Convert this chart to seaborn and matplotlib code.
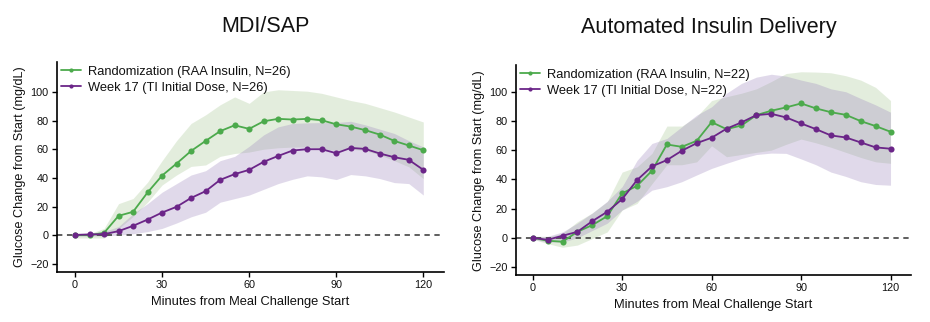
import numpy as np
import pandas as pd
import matplotlib
matplotlib.use("Agg")
import matplotlib.pyplot as plt
import seaborn as sns

sns.set_style("ticks")
plt.rcParams['font.family'] = ['Liberation Sans', 'DejaVu Sans']

minutes = [0, 5, 10, 15, 20, 25, 30, 35, 40, 45, 50, 55, 60, 65, 70, 75, 80, 85, 90, 95, 100, 105, 110, 115, 120]

# MDI/SAP panel
mdi_rand = [0, 0, 1.6, 13.5, 16.3, 29.8, 41.6, 50, 58.8, 65.8, 72.6, 76.7, 74.2, 79.5, 81.2, 80.7, 81.2, 80.2, 77.4, 75.8, 73.3, 70.2, 65.8, 62.6, 59.3]
mdi_rand_lo = [-2, -2, -2, 4.6, 13, 23, 35, 42, 48, 49, 55, 57, 58, 60, 61, 61.5, 61.6, 60.5, 59, 60, 59, 56, 52, 47.7, 39.5]
mdi_rand_hi = [1, 1, 4.7, 22, 25.6, 37, 52, 66, 78, 84, 91, 96.5, 92, 100, 101.5, 101, 100.5, 99, 96.5, 94, 92, 89, 86, 82.5, 79]
mdi_wk17 = [0.2, 0.5, 0.7, 2.8, 6.5, 10.9, 15.8, 19.8, 26, 30.7, 38.6, 42.6, 45.6, 51.2, 55.3, 59.1, 60, 60, 57.2, 60.9, 60.2, 57, 54.4, 52.6, 45.6]
mdi_wk17_lo = [-0.5, -0.5, -0.5, 0, 1, 2.5, 4.7, 8.5, 12.8, 16, 23, 25.5, 28, 32, 36, 39, 41.4, 40.7, 38.8, 42.3, 41.4, 39.5, 36.7, 36, 28]
mdi_wk17_hi = [1, 1.5, 2.5, 6, 15, 22, 30, 36, 42, 45, 52, 55, 62, 70, 75.6, 78, 78.4, 78.6, 78.6, 79.5, 77, 74, 71, 66, 61.6]

# Automated Insulin Delivery panel
aid_rand = [0, -2, -2.7, 4.1, 8.7, 14.8, 30.4, 35.6, 45.9, 63.9, 62.3, 66.4, 79.2, 74.4, 76.9, 84, 87, 89.3, 92, 88.6, 86, 84.2, 79.9, 76.5, 72.6]
aid_rand_lo = [-1, -4, -6.5, -5, -0.5, 4, 19, 23.5, 37, 50, 50, 52, 63, 55.5, 57, 58.5, 60, 64, 67.6, 65, 62, 58.5, 55, 52, 51]
aid_rand_hi = [1, 0.5, 3, 11, 17, 24.7, 45, 48.6, 57.8, 76.5, 76.5, 83, 94, 96.6, 99, 102, 107, 112.5, 113.7, 113.5, 113, 111, 108, 103, 94]
aid_wk17 = [0, -1.4, 1.4, 4.1, 11.4, 17.8, 26.5, 39.5, 48.9, 53.2, 59.6, 64.8, 68.5, 74.7, 79, 84, 84.9, 82.4, 78.3, 74.4, 70.1, 68.7, 65.3, 61.9, 61]
aid_wk17_lo = [-1, -3, -3, 0, 5, 10, 19, 25, 32.6, 35, 38.4, 43, 47.5, 51, 54.3, 57, 58, 57.8, 54, 50, 45, 42, 38.4, 36.5, 36]
aid_wk17_hi = [1, 1, 4, 10, 17, 25, 35, 53, 64.6, 68, 76, 84, 89.7, 99, 105.7, 110, 112, 110.7, 108, 105.7, 102, 100, 95.4, 91, 86]

titles = ["MDI/SAP", "Automated Insulin Delivery"]
labels_mdi = ["Randomization (RAA Insulin, N=26)", "Week 17 (TI Initial Dose, N=26)"]
labels_aid = ["Randomization (RAA Insulin, N=22)", "Week 17 (TI Initial Dose, N=22)"]
x_ticks = [0, 30, 60, 90, 120]
y_ticks = [-20, 0, 20, 40, 60, 80, 100]

GREEN = "#4caa4c"
PURPLE = "#6b2588"
GREEN_BAND = (165/255, 198/255, 145/255)
PURPLE_BAND = (155/255, 132/255, 188/255)

fig = plt.figure(figsize=(9.3, 3.22), dpi=100)
ax1 = fig.add_axes([0.061, 0.154, 0.416, 0.654])
ax2 = fig.add_axes([0.5545, 0.145, 0.4255, 0.653])

panels = [
    (ax1, titles[0], labels_mdi, mdi_rand, mdi_rand_lo, mdi_rand_hi, mdi_wk17, mdi_wk17_lo, mdi_wk17_hi, (-26, 121), (-6.3, 127), 265),
    (ax2, titles[1], labels_aid, aid_rand, aid_rand_lo, aid_rand_hi, aid_wk17, aid_wk17_lo, aid_wk17_hi, (-25.7, 118.3), (-5.7, 127), 709),
]

for ax, title, labels, r, rlo, rhi, w, wlo, whi, ylim, xlim, tx in panels:
    ax.fill_between(minutes, rlo, rhi, color=GREEN_BAND, alpha=0.3, lw=0)
    ax.fill_between(minutes, wlo, whi, color=PURPLE_BAND, alpha=0.3, lw=0)
    ax.axhline(0, color="#333333", ls=(0, (3.5, 3)), lw=1.1, zorder=1)
    df = pd.DataFrame({
        "Minutes": minutes * 2,
        "Change": r + w,
        "Group": [labels[0]] * len(minutes) + [labels[1]] * len(minutes),
    })
    sns.lineplot(data=df, x="Minutes", y="Change", hue="Group",
                 palette=[GREEN, PURPLE], marker="o", markersize=4.4,
                 markeredgewidth=0, lw=1.3, ax=ax, zorder=3)
    ax.set_xlim(*xlim)
    ax.set_ylim(*ylim)
    ax.set_xticks(x_ticks)
    ax.set_yticks(y_ticks)
    ax.tick_params(axis="both", labelsize=7.8, length=3.8, width=1.0, pad=2,
                   color="black", labelcolor="#111111")
    for s in ["top", "right"]:
        ax.spines[s].set_visible(False)
    for s in ["left", "bottom"]:
        ax.spines[s].set_linewidth(1.2)
        ax.spines[s].set_color("black")
    ax.set_xlabel("Minutes from Meal Challenge Start", fontsize=9.3, color="#111111")
    ax.set_ylabel("Glucose Change from Start (mg/dL)", fontsize=9.1, labelpad=3, color="#111111")
    fig.text(tx / 930, 1 - 27 / 322, title, fontsize=15.5, ha="center", va="center", color="#111111")
    leg = ax.legend(loc="upper left", frameon=False, fontsize=9.3, handlelength=1.6,
                    handletextpad=0.5, borderaxespad=0.1, labelspacing=0.3,
                    borderpad=0.2)
    for t in leg.get_texts():
        t.set_color("#111111")
    for h in leg.legend_handles:
        h.set_markersize(3)

fig.savefig("out.png", dpi=100)
